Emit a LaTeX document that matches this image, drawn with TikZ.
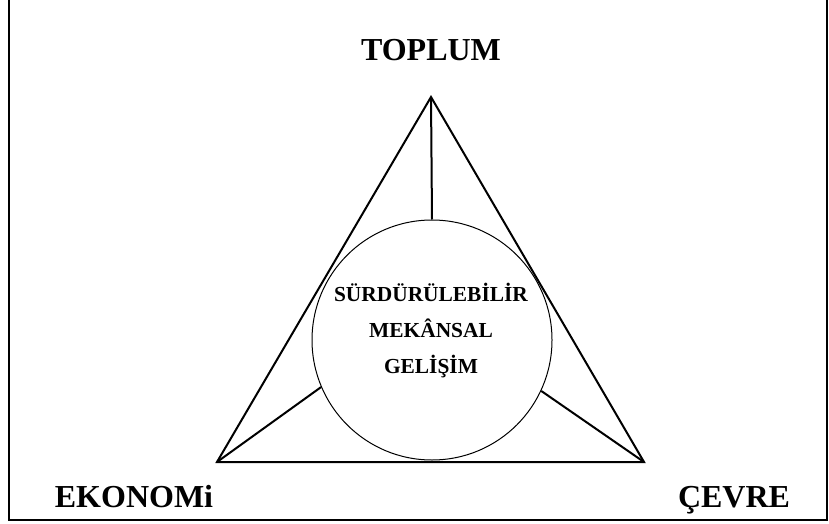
\documentclass[tikz,border=0pt]{standalone}
\usepackage{fontspec}
\setmainfont{Liberation Serif}
\usepackage{tikz}
\usetikzlibrary{positioning, calc}
\tikzstyle{baslik} = [inner sep=0pt, anchor=base,
    font=\bfseries\fontsize{16}{19}\selectfont]
\tikzstyle{icyazi} = [inner sep=0pt, align=center,
    font=\bfseries\fontsize{10.7}{18}\selectfont]
\tikzstyle{daire} = [circle, draw, line width=0.5pt,
    minimum size=120pt, inner sep=0pt]
\tikzstyle{kenar} = [line width=1pt, line join=miter]

\begin{document}
\begin{tikzpicture}[x=0.5pt, y=-0.5pt]
  \useasboundingbox (0,0) rectangle (829,524);
  % cerceve
  \draw[line width=1.2pt] (9,0) -- (9,520) -- (827,520) -- (827,0);

  \coordinate (tepe) at (431,97);
  \coordinate (sol)  at (217,462);
  \coordinate (sag)  at (644,462);

  \node (gelisim) [daire] at (432,340) {};
  \node (yazi)    [icyazi] at (431,331) {SÜRDÜRÜLEBİLİR\\ MEKÂNSAL\\ GELİŞİM};

  \node (toplum)  [baslik] at (431,61)  {TOPLUM};
  \node (ekonomi) [baslik] at (134,507) {EKONOMi};
  \node (cevre)   [baslik] at (734,507) {ÇEVRE};

  \draw[kenar] (tepe) -- (sol) -- (sag) -- cycle;
  \draw[kenar] (tepe) -- (gelisim.north);
  \draw[kenar] (sol)  -- (gelisim.203.6);
  \draw[kenar] (sag)  -- (gelisim.335.6);
\end{tikzpicture}
\end{document}
